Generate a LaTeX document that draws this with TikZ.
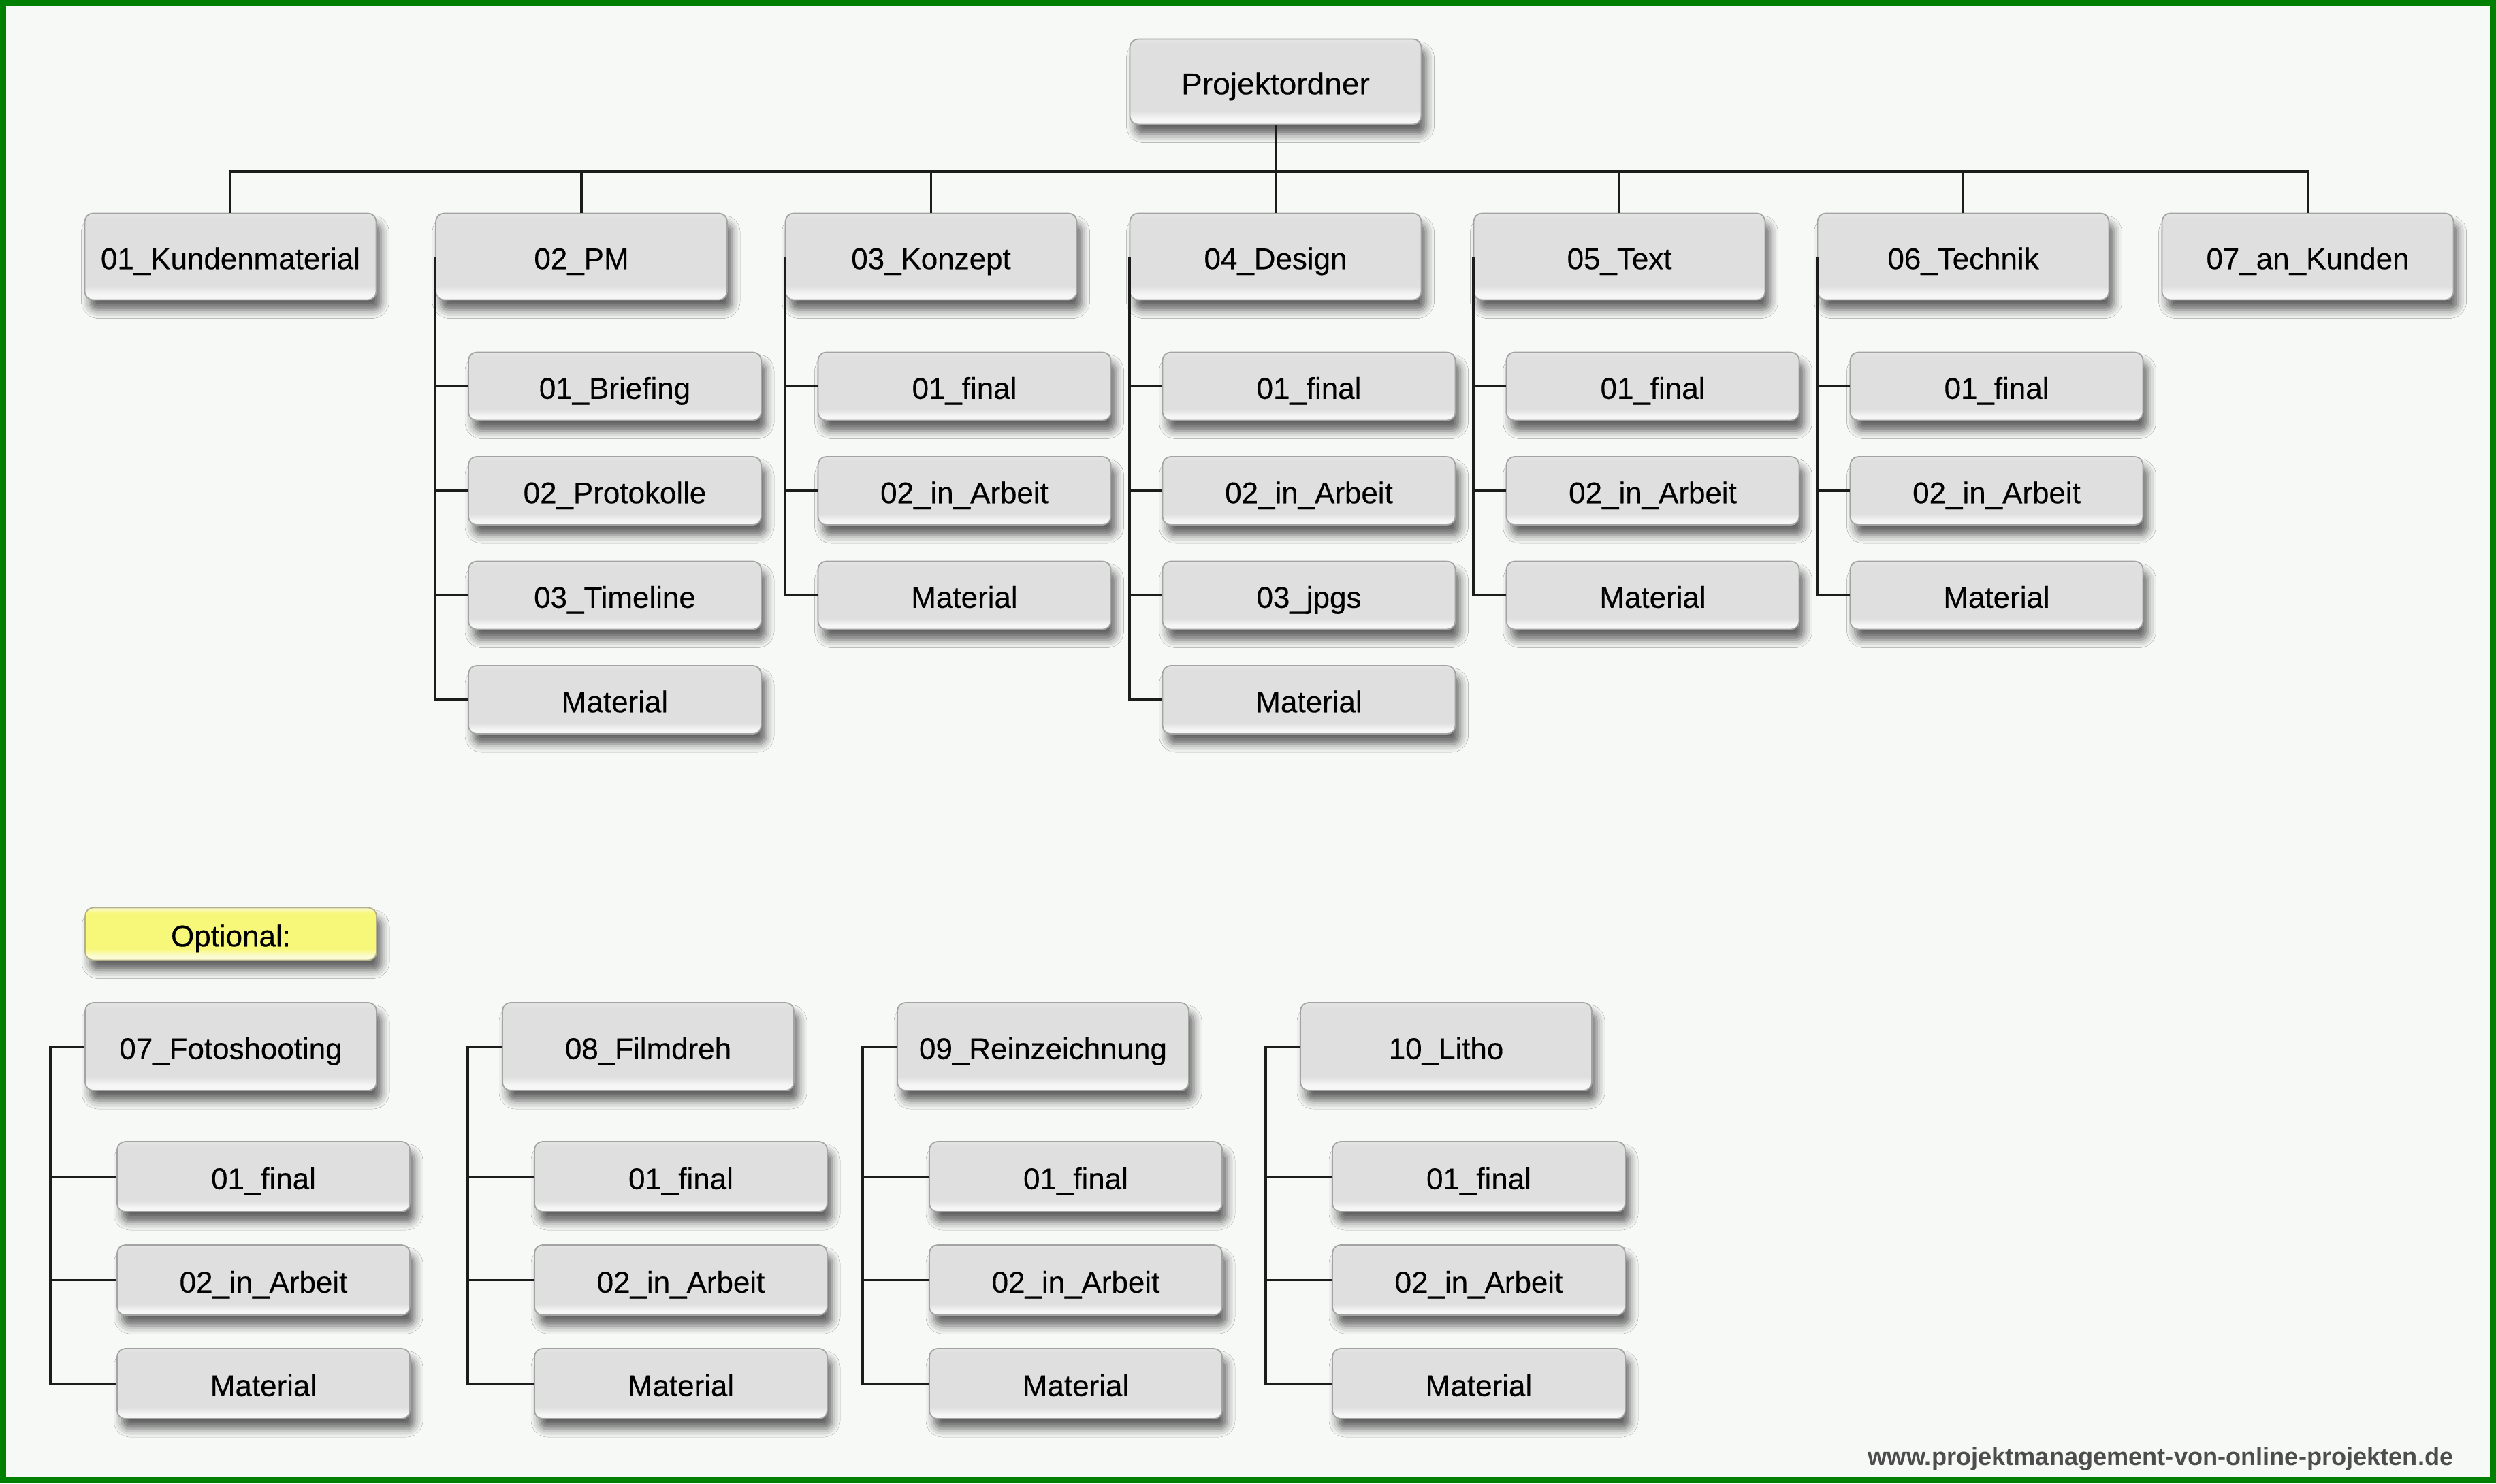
\documentclass[tikz,border=0pt]{standalone}
\usepackage{fontspec}
\setmainfont{Liberation Sans}
\newfontfamily\folderfont[FakeBold=0.3]{Liberation Sans}
\newfontfamily\rootfont[FakeStretch=1.05, FakeBold=0.3]{Liberation Sans}
\usetikzlibrary{trees,shadows.blur}

\definecolor{bggray}{HTML}{F7F9F7}
\definecolor{framegreen}{HTML}{008000}
\definecolor{boxgray}{HTML}{DEDFDE}
\definecolor{boxtop}{HTML}{E4E5E4}
\definecolor{boxlight}{HTML}{F6F6F6}
\definecolor{boxline}{HTML}{A3A3A3}
\definecolor{noteyellow}{HTML}{F7F77A}
\definecolor{notelight}{HTML}{FCFCD2}
\definecolor{noteline}{HTML}{B3B18C}
\definecolor{linkblack}{HTML}{1C1C1C}
\definecolor{webgray}{HTML}{4D4D4D}

% fill of the folder boxes: light glossy rim at the bottom
\pgfdeclareverticalshading{folderfill}{100bp}{color(0bp)=(boxlight); color(25bp)=(boxlight); color(28bp)=(boxlight); color(33bp)=(boxgray); color(72bp)=(boxgray); color(75bp)=(boxtop); color(100bp)=(boxtop)}
\pgfdeclareverticalshading{notefill}{100bp}{color(0bp)=(notelight); color(25bp)=(notelight); color(29bp)=(notelight); color(36bp)=(noteyellow); color(70bp)=(noteyellow); color(75bp)=(notelight); color(100bp)=(notelight)}

\tikzset{
  folder/.style = {draw=boxline, line width=0.5pt, rounded corners=0.12cm,
    shade, shading=folderfill, inner sep=0pt, minimum width=4.28cm,
    text height=10.4pt, text depth=0pt,
    text=black, font=\folderfont\fontsize{12.5}{15}\selectfont,
    blur shadow={shadow xshift=0.07cm, shadow yshift=-0.15cm,
      shadow blur radius=0.12cm, shadow opacity=60}},
  mainfolder/.style = {folder, minimum height=1.27cm},
  subfolder/.style = {folder, minimum width=4.3cm, minimum height=1.0cm},
  notebox/.style = {folder, draw=noteline, shading=notefill, minimum height=0.77cm},
  edge from parent/.style = {draw=linkblack, line width=1.1pt}
}

\begin{document}
\begin{tikzpicture}[
  level 1/.style = {level distance=1.25cm, sibling distance=5.085cm,
    edge from parent path={(\tikzparentnode) -| (\tikzchildnode.north)}},
  level 2/.style = {grow via three points={one child at (0.49,-1.905) and two children at (0.49,-1.905) and (0.49,-3.44)},
    edge from parent path={(\tikzparentnode.west) |- (\tikzchildnode.west)}}
  ]
  \useasboundingbox (0,0) rectangle (36.66,-21.79);
  \fill[bggray] (0,0) rectangle (36.66,-21.79);

  % top tree
  \node[mainfolder, minimum height=1.25cm, font=\rootfont\fontsize{12.5}{15}\selectfont] (root) at (18.735,-1.2) {Projektordner};
  \coordinate (bus) at (18.64,-2.52)
  child {node[mainfolder] (kunden) {01\_Kundenmaterial}}
  child[xshift=0.07cm] {node[mainfolder] (pm) {02\_PM}
          child {node[subfolder] (pm1) {01\_Briefing}}
          child {node[subfolder] (pm2) {02\_Protokolle}}
          child {node[subfolder] (pm3) {03\_Timeline}}
          child {node[subfolder] (pm4) {Material}}
        }
  child[xshift=0.12cm] {node[mainfolder] (konzept) {03\_Konzept}
          child {node[subfolder] (konzept1) {01\_final}}
          child {node[subfolder] (konzept2) {02\_in\_Arbeit}}
          child {node[subfolder] (konzept3) {Material}}
        }
  child[xshift=0.095cm] {node[mainfolder] (design) {04\_Design}
          child {node[subfolder] (design1) {01\_final}}
          child {node[subfolder] (design2) {02\_in\_Arbeit}}
          child {node[subfolder] (design3) {03\_jpgs}}
          child {node[subfolder] (design4) {Material}}
        }
  child[xshift=0.06cm] {node[mainfolder] (text) {05\_Text}
          child {node[subfolder] (text1) {01\_final}}
          child {node[subfolder] (text2) {02\_in\_Arbeit}}
          child {node[subfolder] (text3) {Material}}
        }
  child[xshift=0.025cm] {node[mainfolder] (technik) {06\_Technik}
          child {node[subfolder] (technik1) {01\_final}}
          child {node[subfolder] (technik2) {02\_in\_Arbeit}}
          child {node[subfolder] (technik3) {Material}}
        }
  child {node[mainfolder] (kunde) {07\_an\_Kunden}
  };
  \draw[draw=linkblack, line width=1.1pt] (root.south) -- (root.south |- bus);

  % optional folders
  \node[notebox] (optional) at (3.39,-13.72) {Optional:};

  \begin{scope}[
    level 1/.style = {grow via three points={one child at (0.48,-1.91) and two children at (0.48,-1.91) and (0.48,-3.43)},
      edge from parent path={(\tikzparentnode.west) -- ++(-0.5,0) |- (\tikzchildnode.west)}}
    ]
    \node[mainfolder, minimum height=1.29cm] (foto) at (3.39,-15.375) {07\_Fotoshooting}
    child {node[subfolder, minimum height=1.03cm] (foto1) {01\_final}}
    child {node[subfolder, minimum height=1.03cm] (foto2) {02\_in\_Arbeit}}
    child {node[subfolder, minimum height=1.03cm] (foto3) {Material}};
    \node[mainfolder, minimum height=1.29cm] (film) at (9.52,-15.375) {08\_Filmdreh}
    child {node[subfolder, minimum height=1.03cm] (film1) {01\_final}}
    child {node[subfolder, minimum height=1.03cm] (film2) {02\_in\_Arbeit}}
    child {node[subfolder, minimum height=1.03cm] (film3) {Material}};
    \node[mainfolder, minimum height=1.29cm] (rein) at (15.32,-15.375) {09\_Reinzeichnung}
    child {node[subfolder, minimum height=1.03cm] (rein1) {01\_final}}
    child {node[subfolder, minimum height=1.03cm] (rein2) {02\_in\_Arbeit}}
    child {node[subfolder, minimum height=1.03cm] (rein3) {Material}};
    \node[mainfolder, minimum height=1.29cm] (litho) at (21.24,-15.375) {10\_Litho}
    child {node[subfolder, minimum height=1.03cm] (litho1) {01\_final}}
    child {node[subfolder, minimum height=1.03cm] (litho2) {02\_in\_Arbeit}}
    child {node[subfolder, minimum height=1.03cm] (litho3) {Material}};
  \end{scope}

  \node[anchor=base east, inner sep=0pt, text=webgray, font=\bfseries\fontsize{10.3}{12}\selectfont] (web) at (36.04,-21.52) {www.projektmanagement-von-online-projekten.de};

  \draw[framegreen, line width=0.09cm] (0.045,-0.045) rectangle (36.615,-21.745);
\end{tikzpicture}
\end{document}
